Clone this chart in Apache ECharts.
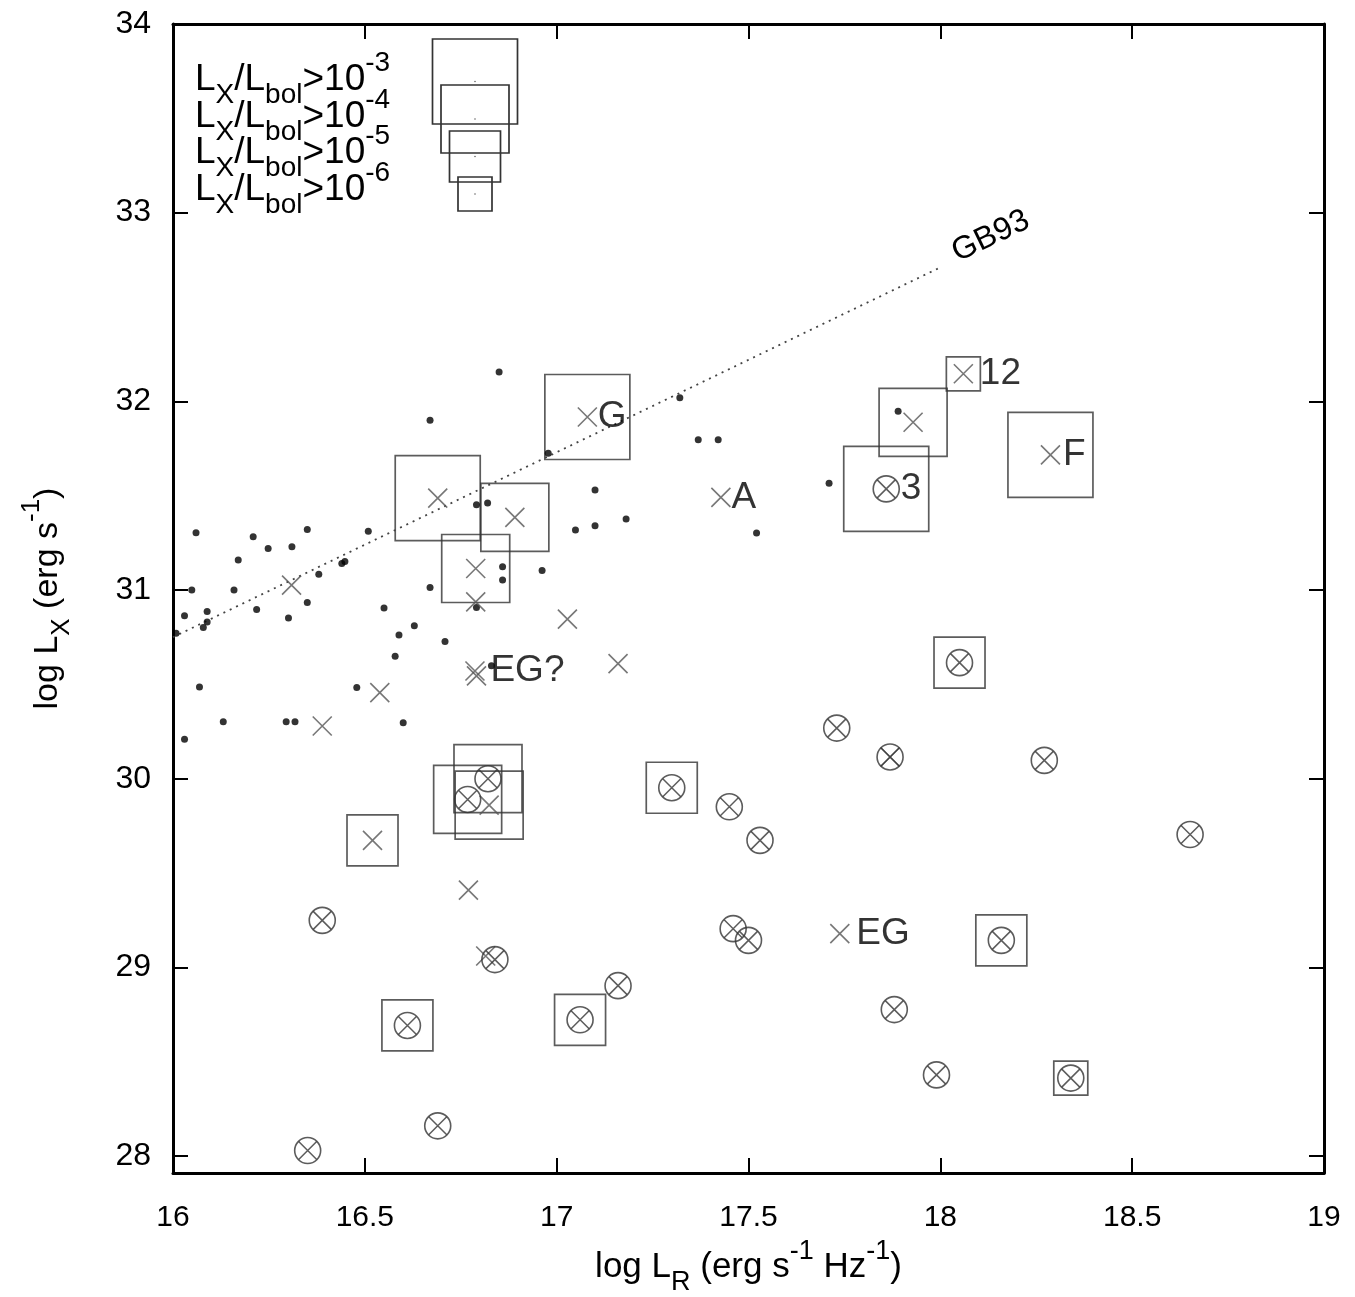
<!DOCTYPE html>
<html>
<head>
<meta charset="utf-8">
<script src="https://cdn.jsdelivr.net/npm/echarts@6/dist/echarts.min.js"></script>
<style>
  html, body { margin: 0; padding: 0; background: #fff; }
  #chart { width: 1355px; height: 1297px; }
</style>
</head>
<body>
<div id="chart"></div>
<script>
// ---- data -------------------------------------------------------------
const xTicks = [16, 16.5, 17, 17.5, 18, 18.5, 19];
const yTicks = [28, 29, 30, 31, 32, 33, 34];

// comparison sample: [log L_R, log L_X]
const dots = [
  [16.850, 32.155], [16.670, 31.900], [16.978, 31.725], [17.321, 32.019],
  [17.369, 31.796], [17.421, 31.796], [17.100, 31.530], [16.791, 31.452],
  [16.820, 31.461], [16.060, 31.304], [16.209, 31.282], [16.350, 31.321],
  [16.509, 31.311], [16.248, 31.220], [16.310, 31.229], [16.170, 31.159],
  [16.440, 31.141], [16.448, 31.151], [16.380, 31.084], [17.049, 31.318],
  [17.100, 31.341], [17.181, 31.376], [17.521, 31.302], [17.710, 31.566],
  [17.890, 31.947], [16.859, 31.123], [16.859, 31.053], [16.962, 31.103],
  [16.670, 31.013], [16.049, 31.000], [16.159, 31.000], [16.089, 30.886],
  [16.089, 30.831], [16.079, 30.801], [16.030, 30.863], [16.008, 30.771],
  [16.218, 30.897], [16.350, 30.934], [16.301, 30.852], [16.550, 30.904],
  [16.791, 30.907], [16.629, 30.810], [16.589, 30.761], [16.709, 30.727],
  [16.579, 30.649], [16.830, 30.598], [16.069, 30.486], [16.479, 30.483],
  [16.131, 30.302], [16.295, 30.302], [16.318, 30.302], [16.600, 30.297],
  [16.030, 30.209]
];

// crosses: [log L_R, log L_X, log(Lx/Lbol) class or null, name]
const crosses = [
  [16.690, 31.487, -3, ''], [16.891, 31.385, -4, ''], [16.789, 31.114, -4, ''],
  [16.789, 30.937, null, ''], [16.309, 31.026, null, ''], [17.028, 30.846, null, ''],
  [16.787, 30.571, null, 'EG?'], [16.791, 30.545, null, ''], [16.539, 30.456, null, ''],
  [16.389, 30.279, null, ''], [17.080, 31.917, -3, 'G'], [17.428, 31.491, null, 'A'],
  [17.929, 31.889, -4, ''], [18.060, 32.146, -6, '12'], [18.287, 31.716, -3, 'F'],
  [17.160, 30.610, null, ''], [16.824, 29.860, -4, ''], [16.520, 29.673, -5, ''],
  [16.770, 29.409, null, ''], [16.815, 29.060, null, ''], [17.738, 29.179, null, 'EG'],
  [17.869, 30.115, null, '']
];

// circled crosses: [log L_R, log L_X, log(Lx/Lbol) class or null, name]
const otimes = [
  [16.821, 30.000, -4, ''], [16.768, 29.890, -4, ''], [16.389, 29.249, null, ''],
  [16.839, 29.041, null, ''], [16.611, 28.692, -5, ''], [16.690, 28.160, null, ''],
  [16.351, 28.029, null, ''], [17.730, 30.268, null, ''], [17.869, 30.115, null, ''],
  [17.300, 29.952, -5, ''], [17.450, 29.851, null, ''], [17.530, 29.673, null, ''],
  [17.460, 29.205, null, ''], [17.500, 29.143, null, ''], [18.159, 29.143, -5, ''],
  [17.160, 28.903, null, ''], [17.061, 28.722, -5, ''], [17.880, 28.776, null, ''],
  [17.990, 28.430, null, ''], [18.271, 30.097, null, ''], [18.651, 29.704, null, ''],
  [18.340, 28.413, -6, ''], [17.859, 31.536, -3, '3'], [18.050, 30.615, -5, '']
];

// Guedel & Benz (1993) relation
const gb93 = [[16.0, 30.75], [18.0, 32.71]];

// Lx/Lbol thresholds shown by the box sizes (exponents)
const ratioClasses = [-3, -4, -5, -6];

// ---- styling ------------------------------------------------------------
const FONT = "'Liberation Sans', Arial, Helvetica, sans-serif";
const CROSS = 'path://M0,0L10,10M10,0L0,10';
const boxSize = e => 17 * (8 + e);

// rich-text styles giving a main run with sub- and superscripts
function richText(F) {
  const S = Math.round(F * 0.76);
  const pM = 12;
  return {
    n:   { fontFamily: FONT, fontSize: F, color: '#000', verticalAlign: 'top', padding: [pM, 0, 0, 0] },
    sub: { fontFamily: FONT, fontSize: S, color: '#000', verticalAlign: 'top', padding: [pM + F / 2 + 0.42 * F - S / 2, 0, 0, 0] },
    sup: { fontFamily: FONT, fontSize: S, color: '#000', verticalAlign: 'top', padding: [Math.max(0, pM + F / 2 - 0.46 * F - S / 2), 0, 0, 0] }
  };
}

const labelGap = { 'G': 10, 'A': 10, 'F': 12, 'EG?': 15, 'EG': 16, '3': 14, '12': 16 };

const boxed = crosses.concat(otimes).filter(p => p[2] !== null);
const named = crosses.concat(otimes).filter(p => p[3]);

const chart = echarts.init(document.getElementById('chart'), null, { renderer: 'canvas' });

const axisLineStyle = { color: '#000', width: 3 };
const tickStyle = { color: '#000', width: 2 };

const option = {
  animation: false,
  backgroundColor: '#fff',
  grid: { left: 173, top: 24, right: 31, bottom: 124, containLabel: false, outerBoundsMode: 'none' },
  xAxis: [
    {
      type: 'value', min: 16, max: 19, position: 'bottom',
      axisLine: { show: true, onZero: false, lineStyle: axisLineStyle },
      axisTick: { show: true, inside: true, length: 15, lineStyle: tickStyle, customValues: xTicks },
      axisLabel: { show: true, customValues: xTicks, fontFamily: FONT, fontSize: 30, color: '#000', margin: 30 },
      splitLine: { show: false },
      name: '{n|log L}{sub|R}{n| (erg s}{sup|-1}{n| Hz}{sup|-1}{n|)}',
      nameLocation: 'middle', nameGap: 64,
      nameTextStyle: { rich: richText(35) }
    },
    {
      type: 'value', min: 16, max: 19, position: 'top',
      axisLine: { show: true, onZero: false, lineStyle: axisLineStyle },
      axisTick: { show: true, inside: true, length: 15, lineStyle: tickStyle, customValues: xTicks },
      axisLabel: { show: false },
      splitLine: { show: false }
    }
  ],
  yAxis: [
    {
      type: 'value', min: 27.91, max: 34, position: 'left',
      axisLine: { show: true, onZero: false, lineStyle: axisLineStyle },
      axisTick: { show: true, inside: true, length: 15, lineStyle: tickStyle, customValues: yTicks },
      axisLabel: { show: true, customValues: yTicks, fontFamily: FONT, fontSize: 32, color: '#000', margin: 22 },
      splitLine: { show: false },
      name: '{n|log L}{sub|X}{n| (erg s}{sup|-1}{n|)}',
      nameLocation: 'middle', nameGap: 98, nameRotate: 90,
      nameTextStyle: { rich: richText(34) }
    },
    {
      type: 'value', min: 27.91, max: 34, position: 'right',
      axisLine: { show: true, onZero: false, lineStyle: axisLineStyle },
      axisTick: { show: true, inside: true, length: 15, lineStyle: tickStyle, customValues: yTicks },
      axisLabel: { show: false },
      splitLine: { show: false }
    }
  ],
  series: [
    {
      name: 'Lx/Lbol', type: 'scatter', z: 1, silent: true,
      data: boxed.map(p => [p[0], p[1], p[2]]),
      symbol: 'rect',
      symbolSize: v => boxSize(v[2]),
      itemStyle: { color: 'rgba(0,0,0,0)', borderColor: '#333', borderWidth: 1.7 }
    },
    {
      name: 'GB93', type: 'line', z: 2, silent: true,
      data: gb93, showSymbol: false, symbol: 'none',
      lineStyle: { type: [2, 5], color: '#444', width: 1.8 }
    },
    {
      name: 'dots', type: 'scatter', z: 3, silent: true,
      data: dots, symbol: 'circle', symbolSize: 7,
      itemStyle: { color: '#000' }
    },
    {
      name: 'crosses', type: 'scatter', z: 4, silent: true,
      data: crosses.map(p => [p[0], p[1]]), symbol: CROSS, symbolSize: 19,
      itemStyle: { color: 'rgba(0,0,0,0)', borderColor: '#555', borderWidth: 1.6 }
    },
    {
      name: 'otimes ring', type: 'scatter', z: 4, silent: true,
      data: otimes.map(p => [p[0], p[1]]), symbol: 'circle', symbolSize: 26,
      itemStyle: { color: 'rgba(0,0,0,0)', borderColor: '#333', borderWidth: 1.6 }
    },
    {
      name: 'otimes cross', type: 'scatter', z: 4, silent: true,
      data: otimes.map(p => [p[0], p[1]]), symbol: CROSS, symbolSize: 18,
      itemStyle: { color: 'rgba(0,0,0,0)', borderColor: '#333', borderWidth: 1.5 }
    },
    {
      name: 'names', type: 'scatter', z: 5, silent: true,
      data: named.map(p => ({
        value: [p[0], p[1]], name: p[3],
        label: { distance: labelGap[p[3]] || 12 }
      })),
      symbol: 'circle', symbolSize: 1,
      itemStyle: { color: 'rgba(0,0,0,0)' },
      label: {
        show: true, position: 'right', formatter: '{b}',
        fontFamily: FONT, fontSize: 37, color: '#000'
      }
    }
  ]
};

chart.setOption(option);

// legend (box sizes) and GB93 tag, placed in pixel space
const legendRich = richText(37);
const graphics = [];
ratioClasses.forEach((e, i) => {
  const cy = 81.5 + 37.5 * i;
  const s = boxSize(e);
  graphics.push({
    type: 'rect', z: 10, silent: true,
    shape: { x: 475 - s / 2, y: cy - s / 2, width: s, height: s },
    style: { fill: 'none', stroke: '#333', lineWidth: 1.7 }
  });
  graphics.push({
    type: 'circle', z: 10, silent: true,
    shape: { cx: 475, cy: cy, r: 0.8 },
    style: { fill: '#666' }
  });
  graphics.push({
    type: 'text', z: 11, silent: true,
    x: 195, y: 80 + 36.6 * i - 12 - 18.5,
    style: {
      text: '{n|L}{sub|X}{n|/L}{sub|bol}{n|>10}{sup|' + e + '}',
      rich: legendRich, align: 'left', verticalAlign: 'top'
    }
  });
});

const p0 = chart.convertToPixel({ gridIndex: 0 }, gb93[0]);
const p1 = chart.convertToPixel({ gridIndex: 0 }, gb93[1]);
const ang = Math.atan2(p0[1] - p1[1], p1[0] - p0[0]);
graphics.push({
  type: 'text', z: 11, silent: true,
  x: p1[0], y: p1[1], rotation: ang,
  style: {
    text: 'GB93', x: 18, y: -6, align: 'left', verticalAlign: 'middle',
    fontFamily: FONT, fontSize: 32, fill: '#000'
  }
});

chart.setOption({ graphic: graphics });
</script>
</body>
</html>
